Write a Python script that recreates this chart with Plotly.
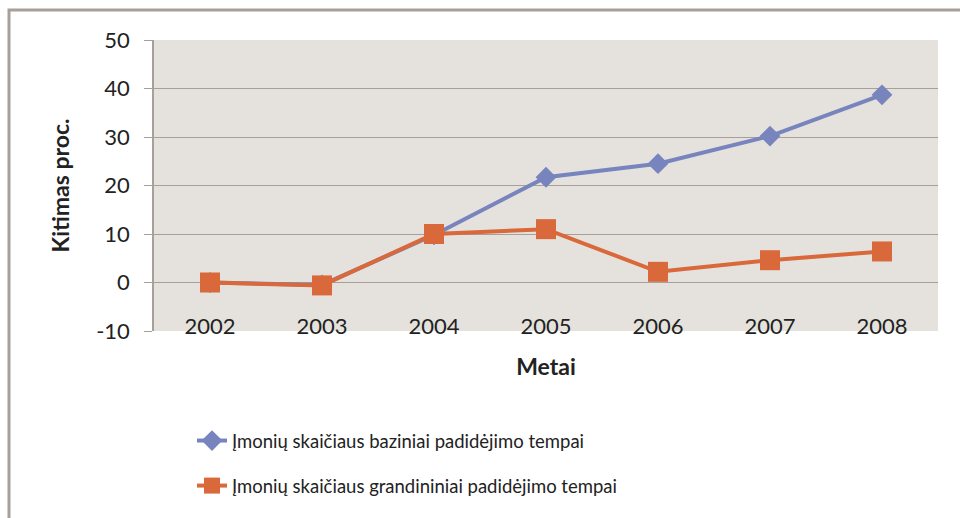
import plotly.graph_objects as go

years = ["2002", "2003", "2004", "2005", "2006", "2007", "2008"]
bazinis = [0.0, -0.5, 9.8, 21.7, 24.5, 30.2, 38.7]
grandininis = [0.0, -0.6, 10.0, 11.0, 2.2, 4.6, 6.4]
series_names = [
    "Įmonių skaičiaus baziniai padidėjimo tempai",
    "Įmonių skaičiaus grandininiai padidėjimo tempai",
]
y_ticks = [-10, 0, 10, 20, 30, 40, 50]
y_ticktext = ["-10", "0", "10", "20", "30", "40", "50"]

FONT = "Lato"
GRID = "#A89F99"
BLUE = "#7884BE"
ORANGE = "#D9683A"

xi = list(range(len(years)))

fig = go.Figure()
fig.add_trace(go.Scatter(
    x=xi, y=bazinis, name=series_names[0], mode="lines+markers",
    line=dict(color=BLUE, width=4),
    marker=dict(symbol="diamond", size=16, color=BLUE),
    legendgroup="a",
))
fig.add_trace(go.Scatter(
    x=xi, y=grandininis, name=series_names[1], mode="lines+markers",
    line=dict(color=ORANGE, width=4),
    marker=dict(symbol="square", size=20, color=ORANGE),
    legendgroup="b",
))

L, R, T, B = 154, 22, 40, 187
W, H = 960, 518
pw, ph = W - L - R, H - T - B
ymin, ymax = y_ticks[0], y_ticks[-1]
zero_pos = (0 - ymin) / (ymax - ymin)

fig.update_layout(
    width=W, height=H,
    margin=dict(l=L, r=R, t=T, b=B, autoexpand=False),
    paper_bgcolor="white",
    plot_bgcolor="#E5E2DD",
    font=dict(family=FONT, size=19, color="#222222"),
    xaxis=dict(
        range=[-0.5, len(years) - 0.5],
        tickmode="array", tickvals=xi, ticktext=years,
        showgrid=False, zeroline=False, showline=False, ticks="",
        tickfont=dict(size=22),
        title=dict(text="<b>Metai</b>", font=dict(size=23), standoff=20),
        ticklabelstandoff=-20,
    ),
    xaxis2=dict(
        overlaying="x", anchor="free", position=zero_pos, side="bottom",
        range=[-0.5, len(years) - 0.5],
        tickmode="array", tickvals=[i - 0.5 for i in range(len(years) + 1)],
        showticklabels=False, showgrid=False, zeroline=False,
        showline=True, linecolor=GRID, linewidth=1.5,
        ticks="outside", ticklen=8, tickcolor=GRID, tickwidth=1.5,
    ),
    yaxis=dict(
        range=[ymin, ymax], tickvals=y_ticks, ticktext=y_ticktext,
        showgrid=True, gridcolor=GRID, gridwidth=1.3,
        zeroline=False, showline=True, linecolor=GRID, linewidth=1.5,
        ticks="outside", ticklen=8, tickcolor=GRID,
        tickfont=dict(size=22),
        ticklabelstandoff=10,
        title=dict(text="<b>Kitimas proc.</b>", font=dict(size=23), standoff=20),
    ),
    legend=dict(
        x=(192 - L) / pw, y=(T + ph - 422) / ph,
        xanchor="left", yanchor="top",
        font=dict(size=18.5, color="#222222"),
        bgcolor="rgba(0,0,0,0)",
        tracegroupgap=18,
        traceorder="grouped",
    ),
    showlegend=True,
)

# outer chart frame (left and top edges visible)
fig.add_shape(type="rect", xref="paper", yref="paper",
              x0=(9 - L) / pw, x1=(W + 10 - L) / pw,
              y0=(T + ph - (H + 10)) / ph, y1=(T + ph - 10) / ph,
              line=dict(color=GRID, width=3), fillcolor="rgba(0,0,0,0)",
              layer="below")

fig.write_html("out.html", config={"displayModeBar": False},
               post_script="document.body.style.margin='0';document.body.style.overflow='hidden';")
